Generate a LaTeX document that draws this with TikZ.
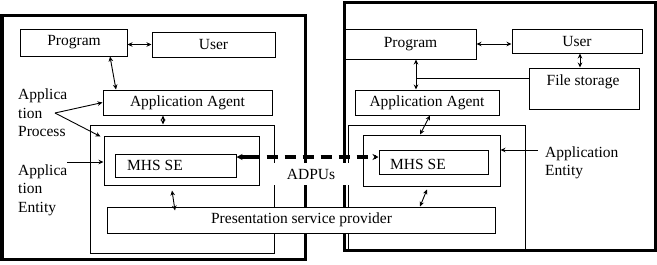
\documentclass[tikz,border=0pt]{standalone}
\usepackage{fontspec}
\setmainfont{Liberation Serif}
\usetikzlibrary{arrows.meta,calc}
\begin{document}
\begin{tikzpicture}[x=1bp,y=-1bp,
  every node/.style={font=\fontsize{15.5bp}{18.5bp}\selectfont},
  box/.style={draw, line width=1bp, inner sep=0pt},
  frame/.style={draw, line width=3bp},
  link/.style={line width=0.9bp, {Stealth[length=5bp,width=4.5bp]}-{Stealth[length=5bp,width=4.5bp]}},
  oneway/.style={line width=0.9bp, -{Stealth[length=5bp,width=4.5bp]}},
  lbl/.style={inner sep=0pt, align=left, anchor=west}]
\useasboundingbox (0,0) rectangle (657,264);
% outer frames
\draw[frame] (2,15) rectangle (305,259);
\draw[frame] (344,2) rectangle (655,250);
% left side boxes
\node[box, minimum width=106bp, minimum height=27bp] (progL) at (74,42.5) {Program};
\node[box, minimum width=123bp, minimum height=25bp] (userL) at (213.5,44.5) {User};
\node[box, minimum width=169bp, minimum height=25bp] (agentL) at (187.5,102.5) {Application Agent};
\node[box, minimum width=184bp, minimum height=128bp] (bigL) at (182,189) {};
\node[box, minimum width=155bp, minimum height=49bp] (ae2L) at (181.5,160.5) {};
\node[box, minimum width=121bp, minimum height=23bp] (mhsL) at (175.5,165.5) {};
\node[inner sep=0pt, anchor=west] (mhsLt) at (127,165.5) {MHS SE};
% right side boxes
\node[box, minimum width=131bp, minimum height=30bp] (progR) at (410.5,44) {Program};
\node[box, minimum width=130bp, minimum height=24bp] (userR) at (577,41) {User};
\node[box, minimum width=110bp, minimum height=41bp] (fileR) at (584,88.5) {};
\node[inner sep=0pt] (fileRt) at (583,81.5) {File storage};
\node[box, minimum width=144bp, minimum height=25bp] (agentR) at (427,102.5) {Application Agent};
\node[box, minimum width=177bp, minimum height=124bp] (bigR) at (436.5,187) {};
\node[box, minimum width=137bp, minimum height=51bp] (ae2R) at (431.5,160.5) {};
\node[box, minimum width=109bp, minimum height=24bp] (mhsR) at (433.5,162) {};
\node[inner sep=0pt, anchor=west] (mhsRt) at (390,164.5) {MHS SE};
% presentation provider
\node[box, minimum width=387bp, minimum height=26bp, fill=white] (pres) at (301.5,220) {Presentation service provider};
% ADPUs label
\node[fill=white, minimum width=78bp, minimum height=22bp, inner sep=0pt] (adpu) at (311,174) {\raisebox{-3bp}{ADPUs}};
% side labels
\node[lbl] (apL) at (18,113) {Applica\\tion\\Process};
\node[lbl] (aeL) at (18,190) {Applica\\tion\\Entity};
\node[lbl] (aeR) at (545,163) {Application\\Entity};
% left connectors
\draw[link] (progL.east |- userL.west) -- (userL.west);
\draw[link] ([xshift=36bp]progL.south) -- ([xshift=-71.5bp]agentL.north);
\coordinate (ag1) at ([xshift=-24.5bp]agentL.south);
\draw[link] (ag1) -- (ag1 |- bigL.north);
\coordinate (apv) at (55,113);
\draw[oneway] (apv) -- (agentL.west);
\draw[oneway] (apv) -- ([xshift=-3bp,yshift=-1bp]ae2L.north west);
\coordinate (aev) at (67,162);
\draw[oneway] (aev) -- (aev -| ae2L.west);
\draw[link] ([xshift=-9.5bp,yshift=-5bp]ae2L.south) -- ([xshift=-126.5bp,yshift=-4bp]pres.north);
% dashed APDU link
\coordinate (dl) at ([yshift=8.5bp]mhsL.east);
\draw[line width=3.5bp, dash pattern=on 11bp off 7bp, -{Stealth[length=6bp,width=6bp]}] ([xshift=12bp]dl) -- (dl);
\draw[line width=3.5bp, dash pattern=on 11bp off 7bp, -{Stealth[length=6bp,width=6bp]}] ([xshift=12bp]dl) -- (dl -| mhsR.west);
% right connectors
\draw[link] (progR.east) -- (progR.east -| userR.west);
\coordinate (uf) at ([xshift=3bp]userR.south);
\draw[link] (uf) -- (uf |- fileR.north);
\coordinate (pa) at ([xshift=5.5bp]progR.south);
\draw[link] (pa) -- (pa |- agentR.north);
\coordinate (fl) at ([yshift=10.5bp]fileR.west);
\draw[line width=0.9bp] (fl) -- (fl -| pa);
\draw[link] ([xshift=3bp]agentR.south) -- ([xshift=-11.5bp]ae2R.north);
\coordinate (aer) at ([yshift=10.5bp]ae2R.east);
\draw[oneway] ([xshift=37bp]aer) -- (aer);
\draw[link] ([xshift=-4.5bp,yshift=-3bp]ae2R.south) -- ([xshift=118.5bp]pres.north);
\end{tikzpicture}
\end{document}
